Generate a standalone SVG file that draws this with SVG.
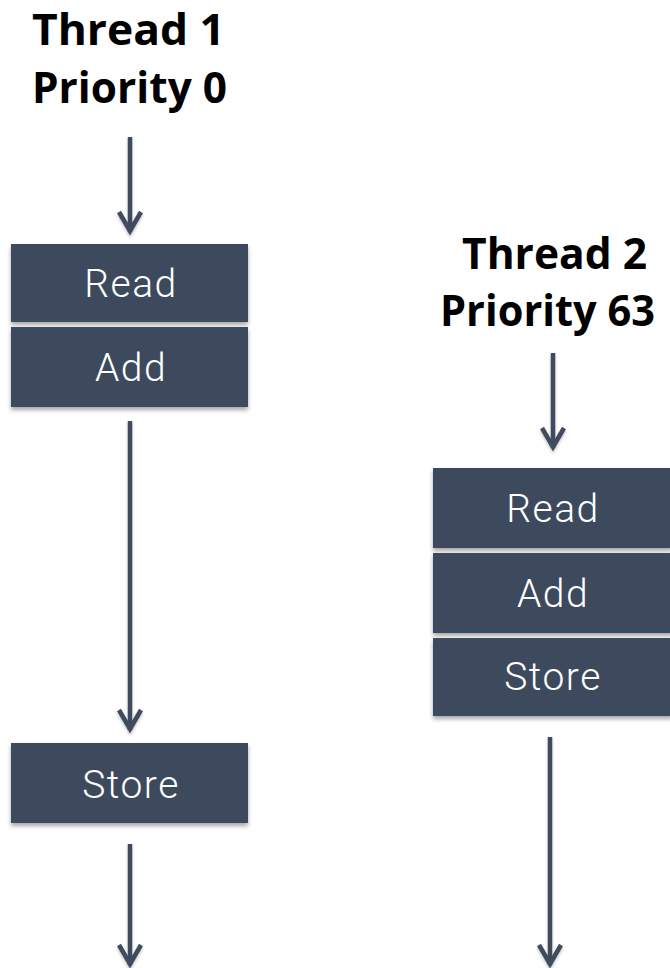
<svg xmlns="http://www.w3.org/2000/svg" width="670" height="968" viewBox="0 0 670 968">
<style>
.title{font-family:"Open Sans","Liberation Sans",sans-serif;font-weight:700;font-size:43px;fill:#000;text-anchor:middle}
.box{fill:#3d4a5c;filter:url(#sh)}
.lbl{font-family:Roboto,"Liberation Sans",sans-serif;font-weight:300;font-size:39px;letter-spacing:1.5px;fill:#fff;text-anchor:middle}
.conn{stroke:#3f4b5e;stroke-width:4.5;fill:none;marker-end:url(#chev);filter:url(#sh2)}
</style>
<defs>
<filter id="sh" x="-10%" y="-20%" width="120%" height="150%">
<feDropShadow dx="0" dy="3" stdDeviation="2" flood-color="#000" flood-opacity="0.35"/>
</filter>
<filter id="sh2" filterUnits="userSpaceOnUse" x="0" y="0" width="670" height="968">
<feDropShadow dx="0" dy="2" stdDeviation="1.5" flood-color="#000" flood-opacity="0.25"/>
</filter>
<marker id="chev" markerUnits="userSpaceOnUse" orient="auto" refX="0" refY="0" markerWidth="40" markerHeight="40" overflow="visible">
<path d="M-20,-11 L-1,0 L-20,11" fill="none" stroke="#3f4b5e" stroke-width="4.5"/>
</marker>
</defs>
<g id="thread1-title">
<text class="title" x="128.5" y="45" textLength="193" lengthAdjust="spacingAndGlyphs">Thread 1</text>
<text class="title" x="129.5" y="103" textLength="195" lengthAdjust="spacingAndGlyphs">Priority 0</text>
</g>
<g id="thread2-title">
<text class="title" x="554.5" y="269" textLength="185" lengthAdjust="spacingAndGlyphs">Thread 2</text>
<text class="title" x="547.5" y="326" textLength="215" lengthAdjust="spacingAndGlyphs">Priority 63</text>
</g>
<g id="t1-read"><rect class="box" x="11" y="244" width="237" height="78"/><text class="lbl" x="131" y="297">Read</text></g>
<g id="t1-add"><rect class="box" x="11" y="327" width="237" height="80"/><text class="lbl" x="131" y="381">Add</text></g>
<g id="t1-store"><rect class="box" x="11" y="743" width="237" height="80"/><text class="lbl" x="131" y="798">Store</text></g>
<g id="t2-read"><rect class="box" x="433" y="468" width="240" height="80"/><text class="lbl" x="553" y="522">Read</text></g>
<g id="t2-add"><rect class="box" x="433" y="553" width="240" height="80"/><text class="lbl" x="553" y="607">Add</text></g>
<g id="t2-store"><rect class="box" x="433" y="638" width="240" height="78"/><text class="lbl" x="553" y="690">Store</text></g>
<g id="connectors">
<line class="conn" x1="130" y1="137" x2="130" y2="232"/>
<line class="conn" x1="130" y1="421" x2="130" y2="730"/>
<line class="conn" x1="130" y1="844" x2="130" y2="965"/>
<line class="conn" x1="553" y1="353" x2="553" y2="448"/>
<line class="conn" x1="550" y1="737" x2="550" y2="965"/>
</g>
</svg>
